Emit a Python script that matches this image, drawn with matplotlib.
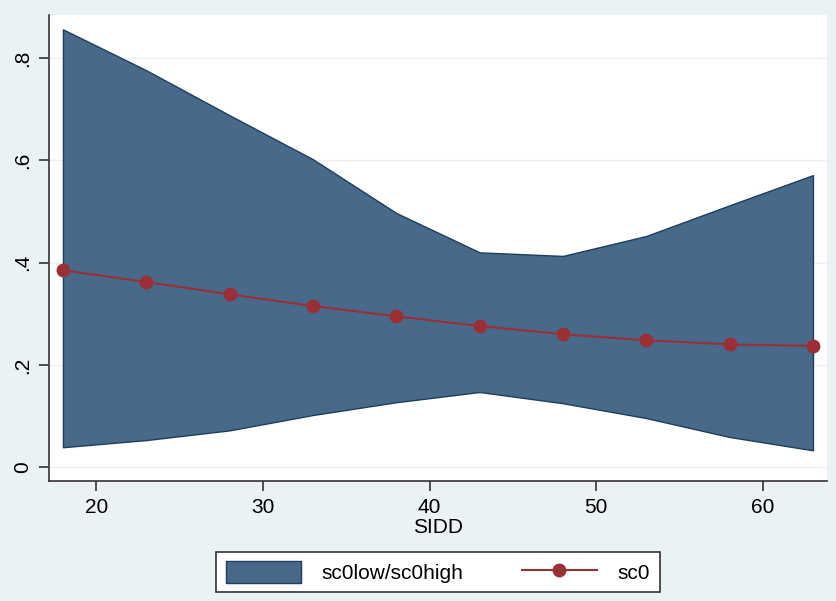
import matplotlib.pyplot as plt
from matplotlib.patches import Patch
from matplotlib.lines import Line2D

plt.rcParams['font.family'] = ['Liberation Sans', 'DejaVu Sans']

sidd = [18, 23, 28, 33, 38, 43, 48, 53, 58, 63]
sc0 = [0.385, 0.362, 0.338, 0.315, 0.295, 0.276, 0.260, 0.248, 0.240, 0.237]
sc0low = [0.039, 0.053, 0.072, 0.102, 0.127, 0.147, 0.125, 0.096, 0.059, 0.033]
sc0high = [0.856, 0.776, 0.688, 0.602, 0.497, 0.420, 0.413, 0.452, 0.512, 0.571]

bg = '#eaf2f3'
fill_col = '#476a8a'
edge_col = '#1f3d5c'
line_col = '#9b2f36'

fig = plt.figure(figsize=(8.37, 6.01), dpi=100)
fig.patch.set_facecolor(bg)
ax = fig.add_axes([0.0585, 0.1997, 0.9295, 0.7753])
ax.set_facecolor('white')

ax.fill_between(sidd, sc0low, sc0high, facecolor=fill_col, edgecolor=edge_col, linewidth=1.0, zorder=2)
ax.plot(sidd, sc0, color=line_col, linewidth=1.5, marker='o', markersize=9,
        markerfacecolor=line_col, markeredgecolor=line_col, zorder=3)

ax.set_xlim(17.16, 63.84)
ax.set_ylim(-0.027, 0.884)
ax.set_xticks([20, 30, 40, 50, 60])
ax.set_yticks([0, 0.2, 0.4, 0.6, 0.8])
ax.set_yticklabels(['0', '.2', '.4', '.6', '.8'], rotation=90, va='center')
ax.grid(axis='y', color=bg, linewidth=1.0, zorder=0)
ax.set_axisbelow(True)

for s in ['top', 'right']:
    ax.spines[s].set_visible(False)
for s in ['left', 'bottom']:
    ax.spines[s].set_color('#333333')
    ax.spines[s].set_linewidth(1.2)
ax.tick_params(direction='out', length=7, width=1.2, color='#333333', labelsize=15, pad=5)
ax.set_xlabel('SIDD', fontsize=15, labelpad=1)

handles = [Patch(facecolor=fill_col, edgecolor=edge_col, label='sc0low/sc0high'),
           Line2D([0], [0], color=line_col, marker='o', markersize=9, linewidth=1.5, label='sc0')]
leg = fig.legend(handles=handles, loc='center', bbox_to_anchor=(438 / 837, 1 - 572 / 601),
                 ncol=2, fontsize=15, frameon=True, fancybox=False, handlelength=3.6,
                 handleheight=1.2, columnspacing=2.8, borderpad=0.45, handletextpad=1.0)
leg.get_frame().set_edgecolor('#333333')
leg.get_frame().set_linewidth(1.2)
leg.get_frame().set_facecolor('white')
leg.get_frame().set_alpha(1)

fig.savefig('out.png', dpi=100, facecolor=bg)
